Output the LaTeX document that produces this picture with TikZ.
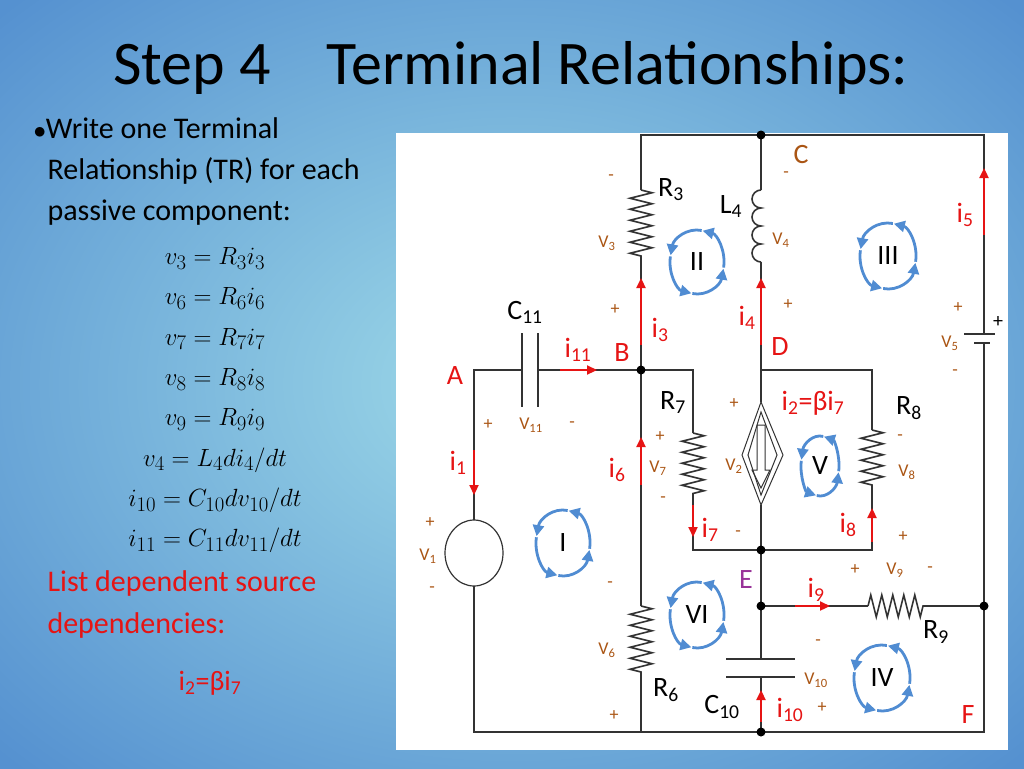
\documentclass[tikz,border=0pt]{standalone}
\usepackage{fontspec}
\setmainfont{Carlito}
\usetikzlibrary{decorations.pathmorphing,arrows.meta}
\definecolor{slideblue}{RGB}{85,145,208}
\definecolor{slidecyan}{RGB}{158,218,232}
\definecolor{volt}{RGB}{170,85,20}
\definecolor{loopblue}{RGB}{80,140,210}
\definecolor{curred}{RGB}{230,20,20}
\tikzset{
  wire/.style={line width=1.6pt,black!80},
  res/.style={wire,decorate,decoration={zigzag,segment length=11,amplitude=11}},
  cur/.style={curred,line width=2.2pt,-{Triangle[length=10pt,width=9pt]}},
  lbl/.style={font=\fontsize{28}{30}\selectfont},
  sml/.style={volt,font=\fontsize{18}{20}\selectfont},
  red/.style={curred,font=\fontsize{28}{30}\selectfont},
  dot/.style={circle,fill=black,inner sep=0pt,minimum size=9pt},
  mesh/.style={loopblue,line width=2.8pt,-{Triangle[length=11pt,width=11pt]}}
}
\newcommand\meshloop[4]{% x, y, rx, ry
  \foreach \a in {0,90,180,270}
    \draw[mesh] ([shift={(\a+100:#3 and #4)}]#1,#2) arc[start angle=\a+100,end angle=\a+12,x radius=#3,y radius=#4];}
\begin{document}
\begin{tikzpicture}[x=1pt,y=-1pt]
  \useasboundingbox (0,0) rectangle (1024,768);
  \clip (0,0) rectangle (1024,768);
  \shade[inner color=slidecyan,outer color=slideblue] (-200,-150) rectangle (1224,918);
  % title and text
  \node[font=\fontsize{62}{66}\selectfont] (title) at (511,68) {Step 4\hspace{0.9em}Terminal Relationships:};
  \node[anchor=north west,align=left,font=\fontsize{30}{41}\selectfont] (txt) at (30,114)
    {$\bullet$Write one Terminal\\ \hspace{14pt}Relationship (TR) for each\\ \hspace{14pt}passive component:};
  \foreach \t [count=\k] in {v_3=R_3 i_3, v_6=R_6 i_6, v_7=R_7 i_7, v_8=R_8 i_8, v_9=R_9 i_9,
      v_4=L_4 di_4/dt, i_{10}=C_{10}dv_{10}/dt, i_{11}=C_{11}dv_{11}/dt}
    \node[font=\fontsize{31}{34}\selectfont] (eq\k) at (215,218+40.3*\k) {$\t$};
  \node[anchor=north west,align=left,curred,font=\fontsize{30}{42}\selectfont] (dep) at (44,567)
    {List dependent source\\ dependencies:};
  \node[red] (depeq) at (210,683) {i\textsubscript{2}=βi\textsubscript{7}};
  % panel
  \fill[white] (396,133) rectangle (1008,750);
  % coordinates
  \coordinate (A) at (474,370); \coordinate (B) at (641,370); \coordinate (C) at (761,135);
  \coordinate (D) at (761,370); \coordinate (E) at (761,550); \coordinate (E2) at (761,606);
  \coordinate (F) at (984,606); \coordinate (G) at (761,732);
  % wires
  \draw[wire] (641,190) -- (641,135) -- (984,135) -- (984,334);
  \draw[wire] (984,343) -- (984,732) -- (474,732) -- (474,586);
  \draw[wire] (474,520) -- (A) -- (522,370);
  \draw[wire] (538,370) -- (B) -- (693,370) -- (693,433);
  \draw[wire] (693,497) -- (693,550) -- (872,550) -- (872,490);
  \draw[wire] (872,430) -- (872,370) -- (D) -- (761,402);
  \draw[wire] (761,505) -- (E) -- (E2) -- (761,659);
  \draw[wire] (761,677) -- (G);
  \draw[wire] (E2) -- (868,606); \draw[wire] (928,606) -- (F);
  \draw[wire] (B) -- (641,258); \draw[wire] (B) -- (641,606); \draw[wire] (641,673) -- (641,732);
  \draw[wire] (C) -- (761,190); \draw[wire] (761,262) -- (D);
  % components
  \draw[res] (641,190) -- (641,258);
  \draw[res] (693,433) -- (693,497);
  \draw[res] (872,430) -- (872,490);
  \draw[res] (641,606) -- (641,673);
  \draw[res] (868,606) -- (928,606);
  \draw[wire] (761,190) foreach \k in {1,...,4} {arc[start angle=270,end angle=90,radius=9]};
  \draw[wire] (522,333) -- (522,407) (538,333) -- (538,407);
  \draw[wire] (726,659) -- (795,659) (726,677) -- (795,677);
  \draw[wire] (964,334) -- (995,334) (974,343) -- (990,343);
  \draw[wire,line width=1.2pt] (474,553) ellipse[x radius=29,y radius=33];
  \draw[wire,line width=1pt] (761,402) -- (783,455) -- (761,505) -- (742,455) -- cycle;
  \draw[wire,line width=1pt] (761,412) -- (777,455) -- (761,495) -- (748,455) -- cycle;
  \draw[wire,line width=1pt] (757,425) -- (765,425) -- (765,470) -- (770,470) -- (761,488)
    -- (752,470) -- (757,470) -- cycle;
  \foreach \p in {C,B,E,E2,F,G} \node[dot] at (\p) {};
  % currents
  \draw[cur] (984,235) -- (984,168);
  \draw[cur] (641,345) -- (641,278);
  \draw[cur] (761,345) -- (761,278);
  \draw[cur] (560,370) -- (597,370);
  \draw[cur] (474,450) -- (474,495);
  \draw[cur] (641,485) -- (641,437);
  \draw[cur] (693,505) -- (693,537);
  \draw[cur] (872,542) -- (872,508);
  \draw[cur] (795,606) -- (830,606);
  \draw[cur] (761,722) -- (761,690);
  % meshes
  \meshloop{697}{262}{27}{32}
  \meshloop{888}{256}{28}{33}
  \meshloop{820}{466}{19}{30}
  \meshloop{563}{543}{27}{33}
  \meshloop{697}{615}{27}{33}
  \meshloop{882}{678}{28}{33}
  \foreach \n/\x/\y in {II/697/262, III/888/256, V/820/466, I/563/543, VI/697/615, IV/882/678}
    \node[lbl] (m\n) at (\x,\y) {\n};
  % labels
  \node[lbl] (nR3) at (671,190) {R\textsubscript{3}};
  \node[lbl] (nL4) at (731,207) {L\textsubscript{4}};
  \node[lbl] (nC11) at (525,312) {C\textsubscript{11}};
  \node[lbl] (nR7) at (673,403) {R\textsubscript{7}};
  \node[lbl] (nR8) at (909,408) {R\textsubscript{8}};
  \node[lbl] (nR9) at (936,632) {R\textsubscript{9}};
  \node[lbl] (nR6) at (666,690) {R\textsubscript{6}};
  \node[lbl] (nC10) at (722,707) {C\textsubscript{10}};
  \node[volt,lbl] (nC) at (801,155) {C};
  \node[red] (nA) at (455,376) {A};
  \node[red] (nB) at (622,353) {B};
  \node[red] (nD) at (780,347) {D};
  \node[red] (nF) at (968,715) {F};
  \node[lbl,text=violet!80] (nE) at (746,580) {E};
  \foreach \t/\x/\y in {5/965/215, 3/660/330, 4/747/318, 11/578/350, 1/458/463,
      6/617/470, 7/710/530, 8/848/525, 9/816/590, 10/790/710}
    \node[red] (i\t) at (\x,\y) {i\textsubscript{\t}};
  \node[red] (i2) at (813,403) {i\textsubscript{2}=βi\textsubscript{7}};
  \foreach \t/\x/\y in {V\textsubscript{3}/607/243, V\textsubscript{4}/781/240, V\textsubscript{5}/950/343,
      V\textsubscript{11}/531/425, V\textsubscript{7}/658/468, V\textsubscript{2}/734/466,
      V\textsubscript{8}/907/472, V\textsubscript{1}/428/556, V\textsubscript{9}/895/570,
      V\textsubscript{10}/816/680, V\textsubscript{6}/607/650,
      -/786/175, -/611/178, +/958/308, -/955/373, +/615/310, +/788/305, +/488/425, -/572/425,
      +/734/404, -/900/438, +/660/437, -/663/500, -/738/534, +/903/537, +/430/523, -/432/590,
      -/610/585, +/855/570, -/930/570, -/818/643, +/822/708, +/614/716}
    \node[sml] at (\x,\y) {\t};
  \node[font=\fontsize{20}{20}\selectfont] (bp) at (998,322) {+};
\end{tikzpicture}
\end{document}
